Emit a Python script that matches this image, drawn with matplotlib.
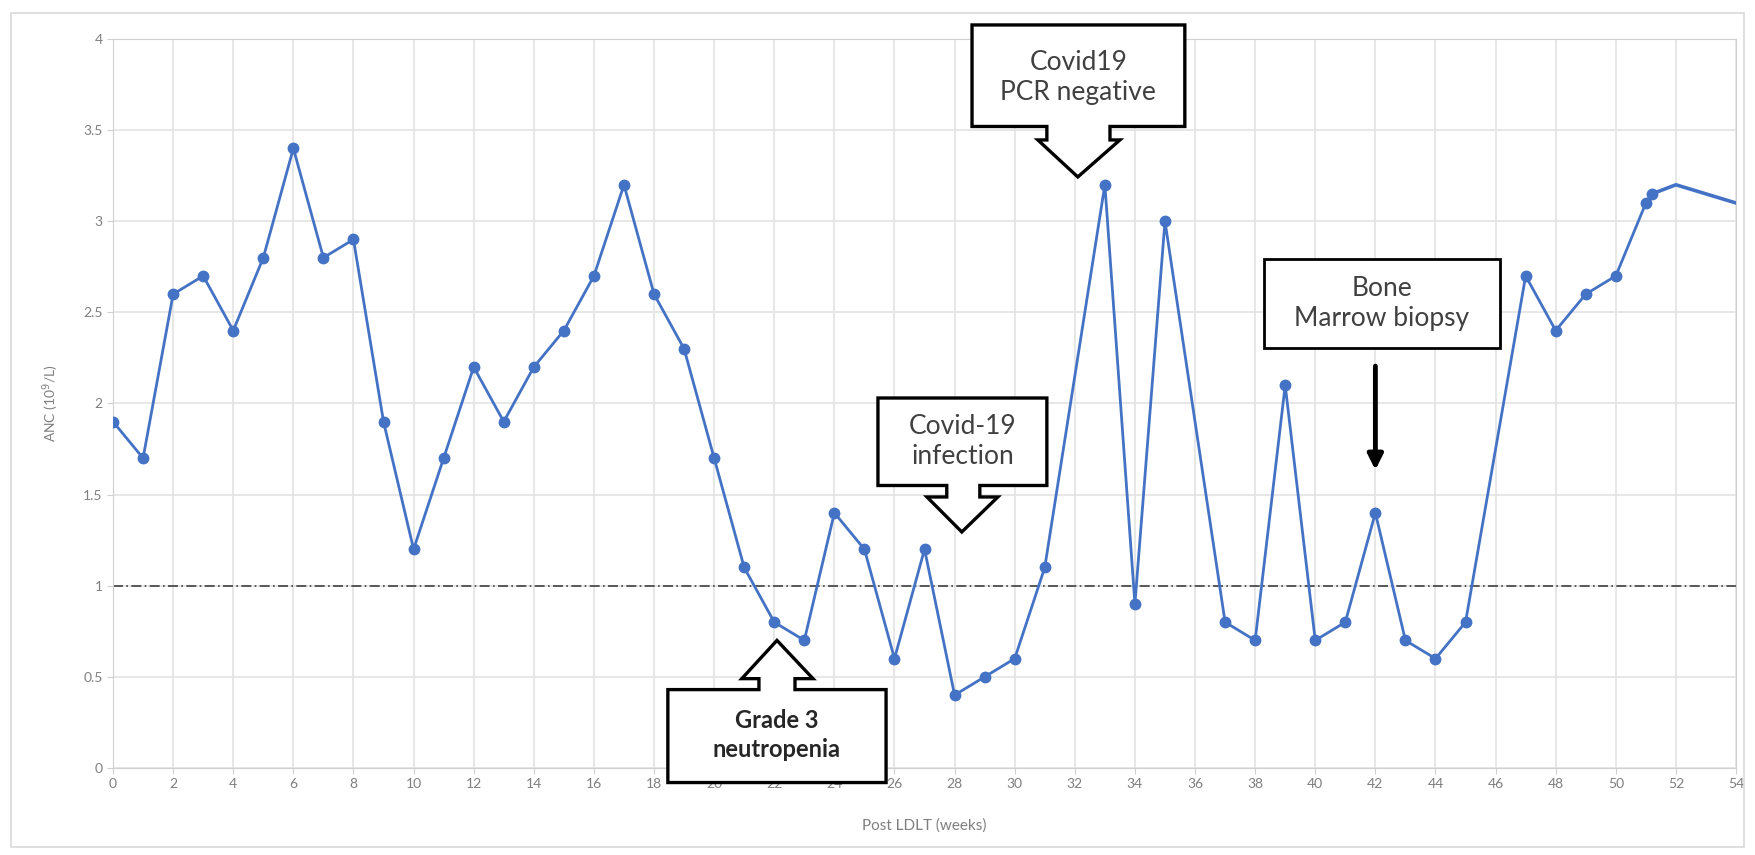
import matplotlib
matplotlib.use("Agg")
import matplotlib.pyplot as plt
from matplotlib.patches import Polygon, Rectangle

# ANC readings per week after LDLT
weeks = [0, 1, 2, 3, 4, 5, 6, 7, 8, 9, 10, 11, 12, 13, 14, 15, 16, 17, 18, 19,
         20, 21, 22, 23, 24, 25, 26, 27, 28, 29, 30, 31, 33, 34, 35, 37, 38, 39,
         40, 41, 42, 43, 44, 45, 47, 48, 49, 50, 51, 51.2]
anc = [1.9, 1.7, 2.6, 2.7, 2.4, 2.8, 3.4, 2.8, 2.9, 1.9, 1.2, 1.7, 2.2, 1.9, 2.2,
       2.4, 2.7, 3.2, 2.6, 2.3, 1.7, 1.1, 0.8, 0.7, 1.4, 1.2, 0.6, 1.2, 0.4, 0.5,
       0.6, 1.1, 3.2, 0.9, 3.0, 0.8, 0.7, 2.1, 0.7, 0.8, 1.4, 0.7, 0.6, 0.8, 2.7,
       2.4, 2.6, 2.7, 3.1, 3.15]
# trailing segment without markers
tail_weeks = [51.2, 52, 54]
tail_anc = [3.15, 3.2, 3.1]

threshold = 1.0
x_ticks = list(range(0, 55, 2))
y_ticks = [0, 0.5, 1, 1.5, 2, 2.5, 3, 3.5, 4]

BLUE = "#4472C4"
GRAY = "#7f7f7f"

plt.rcParams["font.family"] = ["Lato", "DejaVu Sans"]

fig = plt.figure(figsize=(17.55, 8.55), dpi=100)
ax = fig.add_axes([0.0644, 0.1018, 0.9248, 0.8526])

# chart area frame
fig.patches.append(Rectangle((0.006, 0.009), 0.988, 0.976, transform=fig.transFigure,
                             fill=False, edgecolor="#d9d9d9", linewidth=1.2))

ax.plot(weeks, anc, color=BLUE, linewidth=2, marker="o", markersize=7.5, zorder=3)
ax.plot(tail_weeks, tail_anc, color=BLUE, linewidth=2.6, zorder=3)
ax.axhline(threshold, color="#404040", linestyle=(0, (6, 2, 1, 2)), linewidth=1.2, zorder=2)

ax.set_xlim(0, 54)
ax.set_ylim(0, 4)
ax.set_xticks(x_ticks)
ax.set_yticks(y_ticks)
ax.set_yticklabels([f"{v:g}" for v in y_ticks])
ax.grid(True, color="#e3e3e3", linewidth=1.2)
ax.set_axisbelow(True)
for s in ax.spines.values():
    s.set_color("#d0d0d0")
ax.tick_params(colors="#d0d0d0", labelcolor=GRAY, labelsize=10, length=4)
ax.set_xlabel("Post LDLT (weeks)", color=GRAY, fontsize=11, labelpad=20)
ax.set_ylabel("ANC (10$^9$/L)", color=GRAY, fontsize=10, labelpad=16)


def callout(x0, x1, y0, y1, stem, head, base, tip, up):
    """Box with a block arrow; up=True puts arrow on top of the box."""
    sx0, sx1 = stem
    hx0, hx1 = head
    tx, ty = tip
    if up:
        pts = [(x0, y0), (x1, y0), (x1, y1), (sx1, y1), (sx1, base), (hx1, base),
               (tx, ty), (hx0, base), (sx0, base), (sx0, y1), (x0, y1)]
    else:
        pts = [(x0, y1), (x1, y1), (x1, y0), (sx1, y0), (sx1, base), (hx1, base),
               (tx, ty), (hx0, base), (sx0, base), (sx0, y0), (x0, y0)]
    ax.add_patch(Polygon(pts, closed=True, facecolor="white", edgecolor="black",
                         linewidth=2.4, clip_on=False, zorder=5, joinstyle="miter"))


callout(18.46, 25.72, -0.08, 0.43, (21.49, 22.69), (20.92, 23.29), 0.49, (22.09, 0.70), True)
ax.text(22.09, 0.18, "Grade 3\nneutropenia", ha="center", va="center", fontsize=17,
        fontweight="bold", color="#262626", zorder=6, linespacing=1.3, clip_on=False)

callout(25.45, 31.07, 1.55, 2.03, (27.74, 28.84), (27.08, 29.44), 1.487, (28.24, 1.295), False)
ax.text(28.26, 1.79, "Covid-19\ninfection", ha="center", va="center", fontsize=19,
        color="#404040", zorder=6, linespacing=1.25)

callout(28.58, 35.66, 3.52, 4.077, (31.07, 33.17), (30.77, 33.5), 3.446, (32.1, 3.243), False)
ax.text(32.12, 3.79, "Covid19\nPCR negative", ha="center", va="center", fontsize=19,
        color="#404040", zorder=6, linespacing=1.25, clip_on=False)

ax.add_patch(Rectangle((38.29, 2.305), 7.85, 0.488, facecolor="white", edgecolor="black",
                       linewidth=2.0, zorder=5))
ax.text(42.22, 2.55, "Bone\nMarrow biopsy", ha="center", va="center", fontsize=19,
        color="#404040", zorder=6, linespacing=1.25)
ax.annotate("", xy=(42.0, 1.62), xytext=(42.0, 2.22),
            arrowprops=dict(arrowstyle="-|>,head_length=0.9,head_width=0.45",
                            color="black", linewidth=3.5), zorder=6)

fig.savefig("out.png", dpi=100)
